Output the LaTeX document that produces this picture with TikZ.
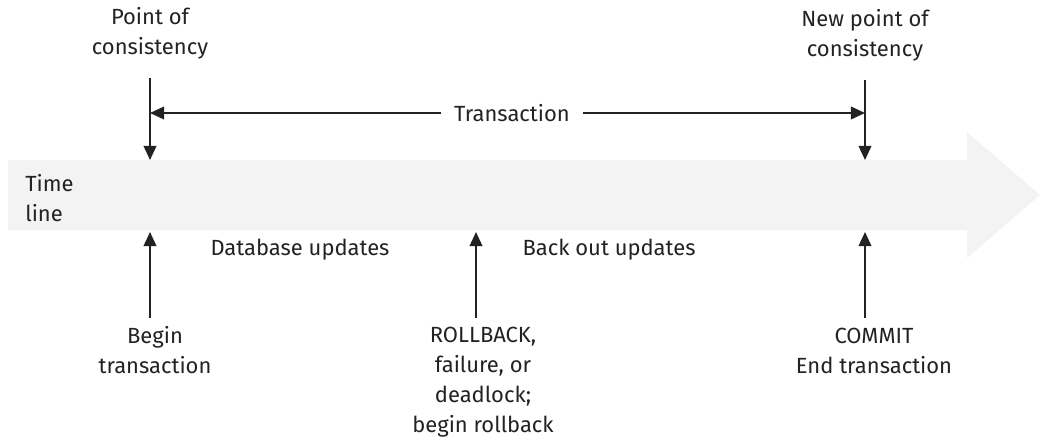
\documentclass[tikz,border=0pt]{standalone}
\usepackage{fontspec}
\setmainfont{Fira Sans}
\usetikzlibrary{arrows.meta,positioning}
\definecolor{bandgray}{HTML}{F3F3F3}
\definecolor{inkgray}{HTML}{222222}

\begin{document}
\begin{tikzpicture}[
  x=0.02cm, y=-0.02cm,
  every node/.style={font=\fontsize{12.5}{17}\selectfont, text=inkgray},
  lbl/.style ={align=center, inner sep=0pt},
  arr/.style ={-{Triangle[length=8pt,width=7.2pt]}, line width=1pt, draw=inkgray},
  band/.style={fill=bandgray, draw=none}
]
\useasboundingbox (0,0) rectangle (1040,439);

%% --- time line band ---------------------------------------------------------
\fill[band] (8,160) -- (967,160) -- (967,132) -- (1040,195)
            -- (967,258) -- (967,230) -- (8,230) -- cycle;
\node[lbl, align=left, anchor=west] (tl) at (25,198) {Time\\line};

%% --- top: points of consistency ---------------------------------------------
\node[lbl] (poc) at (150,33) {Point of\\consistency};
\node[lbl] (npc) at (865,35) {New point of\\consistency};

\coordinate (poc_top) at (150,78);
\coordinate (poc_bot) at (150,160);
\coordinate (npc_top) at (865,80);
\coordinate (npc_bot) at (865,160);

\draw[arr] (poc_top) -- (poc_bot);
\draw[arr] (npc_top) -- (npc_bot);

\node[inner xsep=7.4pt, inner ysep=0pt] (tr) at (512,113) {Transaction};
\draw[arr] (tr.west) -- (tr.west -| poc_top);
\draw[arr] (tr.east) -- (tr.east -| npc_top);

%% --- bottom: events ----------------------------------------------------------
\node[lbl] (db) at (300,250) {Database updates};
\node[lbl] (bo) at (609,250) {Back out updates};

\coordinate (bt_bot) at (150,318);
\coordinate (bt_top) at (150,232);
\coordinate (rb_bot) at (476,318);
\coordinate (rb_top) at (476,232);
\coordinate (cm_bot) at (865,318);
\coordinate (cm_top) at (865,232);

\foreach \a/\b in {bt_bot/bt_top, rb_bot/rb_top, cm_bot/cm_top}
  \draw[arr] (\a) -- (\b);

\node[lbl] (bt) at (155,350) {Begin\\transaction};
\node[lbl] (rb) at (483,382) {ROLLBACK,\\failure, or\\deadlock;\\begin rollback};
\node[lbl] (cm) at (874,351) {COMMIT\\End transaction};

\end{tikzpicture}
\end{document}
